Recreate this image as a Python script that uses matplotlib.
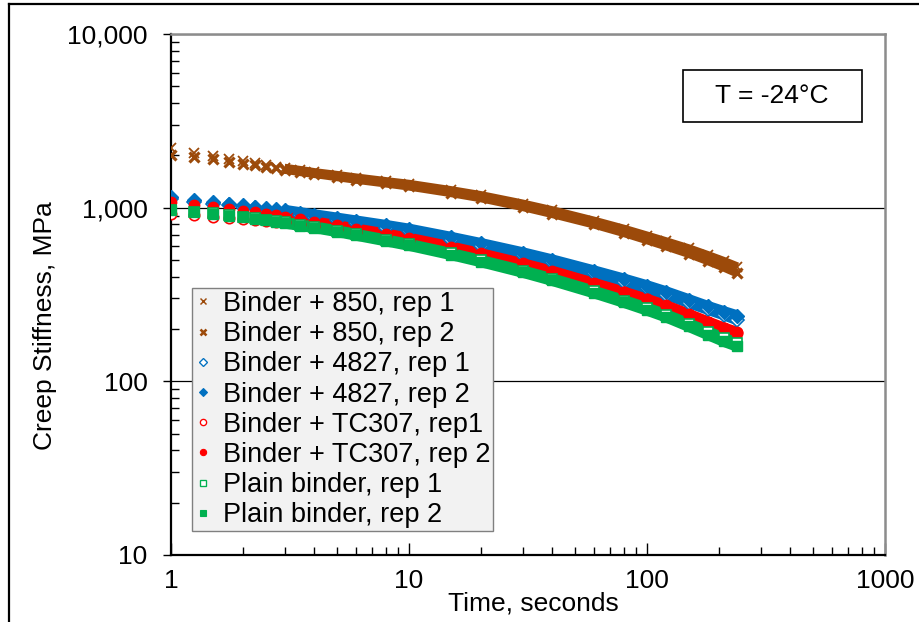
import matplotlib
matplotlib.use("Agg")
import matplotlib.pyplot as plt
from matplotlib.ticker import FuncFormatter, LogLocator, FixedLocator
from matplotlib.lines import Line2D
from matplotlib.patches import Rectangle
import numpy as np

plt.rcParams['font.family'] = ['Liberation Sans', 'DejaVu Sans']

# Loading time, s
time_s = [1, 1.25, 1.5, 1.75, 2, 2.25, 2.5, 2.75, 3, 3.5, 4, 5, 6, 8, 10,
          15, 20, 30, 40, 60, 80, 100, 120, 150, 180, 210, 240]

# Creep stiffness, MPa
s_850_r1 = [2200, 2060, 1980, 1910, 1850, 1800, 1760, 1725, 1695, 1645, 1600, 1540, 1490, 1420, 1370,
            1260, 1180, 1055, 965, 840, 755, 690, 640, 582, 533, 493, 458]
s_850_r2 = [2000, 1960, 1900, 1840, 1790, 1750, 1715, 1685, 1655, 1605, 1565, 1500, 1450, 1380, 1325,
            1215, 1135, 1010, 920, 800, 715, 650, 600, 542, 493, 453, 418]
s_4827_r1 = [1120, 1085, 1055, 1030, 1010, 990, 970, 955, 940, 910, 885, 845, 815, 768, 730,
             655, 603, 533, 484, 418, 375, 343, 316, 284, 260, 242, 226]
s_4827_r2 = [1150, 1110, 1080, 1055, 1035, 1015, 995, 980, 965, 935, 910, 870, 838, 790, 752,
             675, 622, 550, 500, 432, 388, 355, 328, 295, 270, 252, 238]
s_tc307_r1 = [925, 905, 888, 873, 862, 850, 840, 830, 822, 803, 787, 755, 728, 688, 655,
              588, 540, 474, 428, 365, 325, 296, 272, 242, 219, 202, 189]
s_tc307_r2 = [1080, 1040, 1010, 985, 960, 940, 920, 903, 888, 858, 832, 790, 757, 708, 670,
              597, 546, 478, 432, 368, 328, 298, 274, 244, 221, 204, 192]
s_plain_r1 = [975, 950, 928, 908, 888, 870, 853, 838, 824, 797, 775, 736, 702, 652, 615,
              545, 497, 433, 389, 330, 292, 264, 242, 214, 193, 177, 166]
s_plain_r2 = [968, 942, 920, 900, 880, 862, 845, 830, 816, 789, 767, 728, 694, 644, 607,
              537, 489, 425, 381, 323, 285, 257, 235, 207, 186, 170, 159]

labels = ["Binder + 850, rep 1", "Binder + 850, rep 2",
          "Binder + 4827, rep 1", "Binder + 4827, rep 2",
          "Binder + TC307, rep1", "Binder + TC307, rep 2",
          "Plain binder, rep 1", "Plain binder, rep 2"]

brown, blue, red, green = '#9C4A0A', '#0070C0', '#FF0000', '#00B050'

# (values, marker style, width of the merged band in points)
series = [
    (s_850_r1, dict(marker='x', color=brown, mec=brown, mfc=brown, ms=7, mew=1.3), 6.0),
    (s_850_r2, dict(marker='x', color=brown, mec=brown, mfc=brown, ms=7, mew=2.3), 6.0),
    (s_4827_r1, dict(marker='D', color=blue, mec=blue, mfc='white', ms=7, mew=1.2), 8.0),
    (s_4827_r2, dict(marker='D', color=blue, mec=blue, mfc=blue, ms=7, mew=1.0), 8.0),
    (s_tc307_r1, dict(marker='o', color=red, mec=red, mfc='white', ms=7.5, mew=1.2), 7.5),
    (s_tc307_r2, dict(marker='o', color=red, mec=red, mfc=red, ms=7.5, mew=1.0), 7.5),
    (s_plain_r1, dict(marker='s', color=green, mec=green, mfc='white', ms=7, mew=1.2), 8.0),
    (s_plain_r2, dict(marker='s', color=green, mec=green, mfc=green, ms=7, mew=1.0), 8.0),
]

fig = plt.figure(figsize=(9.2, 6.22), dpi=100)
ax = fig.add_axes([171 / 920, 1 - 555 / 622, 714 / 920, 521 / 622])

t = np.array(time_s)
dense = t >= 3
handles = []
for vals, st, band_w in series:
    v = np.array(vals)
    # readings merge into a continuous band at longer times
    ax.plot(t[dense], v[dense], '-', color=st['color'], lw=band_w,
            solid_capstyle='butt', zorder=2)
    ax.plot(t, v, ls='none', zorder=3, **st)
    handles.append(Line2D([], [], ls='none', marker=st['marker'], color=st['color'],
                          mec=st['mec'], mfc=st['mfc'], ms=st['ms'] * 0.6,
                          mew=st['mew'] * 0.8))

ax.set_xscale('log')
ax.set_yscale('log')
ax.set_xlim(1, 1000)
ax.set_ylim(10, 10000)

ax.xaxis.set_major_locator(FixedLocator([1, 10, 100, 1000]))
ax.yaxis.set_major_locator(FixedLocator([10, 100, 1000, 10000]))
ax.xaxis.set_minor_locator(LogLocator(base=10, subs=np.arange(2, 10)))
ax.yaxis.set_minor_locator(LogLocator(base=10, subs=np.arange(2, 10)))
ax.xaxis.set_major_formatter(FuncFormatter(lambda v, p: f"{v:.0f}"))
ax.yaxis.set_major_formatter(FuncFormatter(lambda v, p: f"{v:,.0f}"))
ax.xaxis.set_minor_formatter(FuncFormatter(lambda v, p: ""))
ax.yaxis.set_minor_formatter(FuncFormatter(lambda v, p: ""))

ax.tick_params(axis='x', which='major', direction='in', length=9, width=1.0,
               labelsize=19, pad=10)
ax.tick_params(axis='x', which='minor', direction='in', length=6, width=1.0)
ax.tick_params(axis='y', which='major', direction='out', length=6, width=1.0,
               labelsize=19, pad=11)
ax.tick_params(axis='y', which='minor', direction='in', length=6, width=1.0)

ax.grid(True, which='major', axis='y', color='black', lw=0.9)
ax.set_axisbelow(True)

for side in ('left', 'bottom'):
    ax.spines[side].set_color('black')
    ax.spines[side].set_linewidth(1.6)
for side in ('top', 'right'):
    ax.spines[side].set_color('#8C8C8C')
    ax.spines[side].set_linewidth(1.8)

ax.set_xlabel("Time, seconds", fontsize=19)
ax.xaxis.set_label_coords(0.507, -0.070)
ax.set_ylabel("Creep Stiffness, MPa", fontsize=19, va='center')
ax.yaxis.set_label_coords(-0.176, 0.44)

leg = ax.legend(handles, labels, loc='lower left', bbox_to_anchor=(0.029, 0.046),
                borderaxespad=0, fontsize=19.5, frameon=True, fancybox=False,
                labelspacing=0.155, handlelength=0.6, handletextpad=0.45,
                borderpad=0.1, framealpha=1)
leg.get_frame().set_facecolor('#F2F2F2')
leg.get_frame().set_edgecolor('#808080')
leg.get_frame().set_linewidth(1.0)

ax.add_patch(Rectangle((0.717, 0.831), 0.251, 0.1, transform=ax.transAxes,
                       fill=True, facecolor='white', edgecolor='black', lw=1.2, zorder=5))
ax.text(0.842, 0.881, "T = -24°C", transform=ax.transAxes, ha='center', va='center',
        fontsize=19, zorder=6)

# outer chart frame
fig.add_artist(Line2D([9 / 920, 9 / 920], [0, 1 - 4 / 622], transform=fig.transFigure,
                      color='black', lw=1.6))
fig.add_artist(Line2D([9 / 920, 1], [1 - 4 / 622, 1 - 4 / 622], transform=fig.transFigure,
                      color='black', lw=1.6))

fig.savefig("out.png", dpi=100)
